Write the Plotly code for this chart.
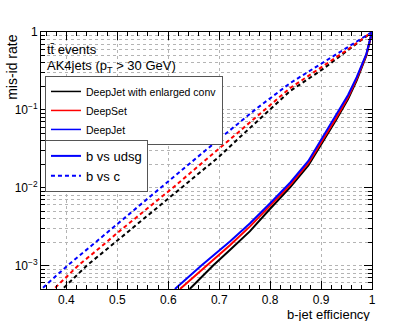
import plotly.graph_objects as go

# ---- data (b-jet efficiency vs mis-id rate) ----
# b vs c (dashed)
deepjet_c_x = [0.354, 0.402, 0.45, 0.50, 0.585, 0.70, 0.77, 0.839, 0.905, 0.95, 1.0]
deepjet_c_y = [5.2e-4, 1e-3, 1.82e-3, 3.39e-3, 1e-2, 0.0422, 0.1, 0.22, 0.412, 0.627, 1.0]

deepset_c_x = [0.378, 0.423, 0.46, 0.50, 0.609, 0.70, 0.739, 0.839, 0.905, 0.95, 1.0]
deepset_c_y = [5.2e-4, 1e-3, 1.58e-3, 2.63e-3, 1e-2, 0.0313, 0.0525, 0.19, 0.37, 0.58, 1.0]

enlarged_c_x = [0.395, 0.44, 0.50, 0.626, 0.70, 0.739, 0.839, 0.905, 0.95, 1.0]
enlarged_c_y = [5.2e-4, 1e-3, 2.1e-3, 1e-2, 0.0251, 0.0437, 0.174, 0.339, 0.562, 1.0]

# b vs udsg (solid)
deepjet_l_x = [0.613, 0.665, 0.721, 0.76, 0.80, 0.84, 0.875, 0.90, 0.93, 0.953, 0.97, 0.989, 1.0]
deepjet_l_y = [5e-4, 1e-3, 2.04e-3, 3.47e-3, 6.31e-3, 1.175e-2, 2.21e-2, 4.07e-2, 8.51e-2, 0.155, 0.263, 0.525, 1.0]

deepset_l_x = [0.623, 0.675, 0.721, 0.76, 0.80, 0.84, 0.875, 0.90, 0.93, 0.953, 0.97, 0.989, 1.0]
deepset_l_y = [5e-4, 1e-3, 1.82e-3, 3.16e-3, 5.82e-3, 1.096e-2, 2.065e-2, 3.80e-2, 7.94e-2, 0.1445, 0.251, 0.513, 1.0]

enlarged_l_x = [0.642, 0.688, 0.721, 0.76, 0.80, 0.84, 0.875, 0.90, 0.93, 0.953, 0.97, 0.989, 1.0]
enlarged_l_y = [5e-4, 1e-3, 1.585e-3, 2.75e-3, 5.37e-3, 1.023e-2, 1.93e-2, 3.55e-2, 7.5e-2, 0.138, 0.24, 0.50, 1.0]

x_tickvals = [0.4, 0.5, 0.6, 0.7, 0.8, 0.9, 1.0]
x_ticktext = ["0.4", "0.5", "0.6", "0.7", "0.8", "0.9", "1"]
y_tickvals = [1e-3, 1e-2, 1e-1, 1]
y_ticktext = ["10<sup>\u22123</sup>", "10<sup>\u22122</sup>", "10<sup>\u22121</sup>", "1"]

BLACK = "#000000"
RED = "#ff0000"
BLUE = "#0000ff"
DASH = "4px,3px"
FONT = "Liberation Sans, Arial, Helvetica, sans-serif"
GRID = "#b4b4b4"

fig = go.Figure()

curves = [
    (enlarged_c_x, enlarged_c_y, BLACK, DASH),
    (deepset_c_x, deepset_c_y, RED, DASH),
    (deepjet_c_x, deepjet_c_y, BLUE, DASH),
    (enlarged_l_x, enlarged_l_y, BLACK, "solid"),
    (deepset_l_x, deepset_l_y, RED, "solid"),
    (deepjet_l_x, deepjet_l_y, BLUE, "solid"),
]
for xs, ys, col, dash in curves:
    fig.add_trace(go.Scatter(x=xs, y=ys, mode="lines", showlegend=False,
                             line=dict(color=col, width=2, dash=dash),
                             hoverinfo="skip"))

# legend entries (tagger colours)
for name, col in [("DeepJet with enlarged conv", BLACK), ("DeepSet", RED), ("DeepJet", BLUE)]:
    fig.add_trace(go.Scatter(x=[None], y=[None], mode="lines", name=name,
                             line=dict(color=col, width=1.5), legend="legend"))
# legend entries (line styles)
for name, dash in [("b vs udsg", "solid"), ("b vs c", DASH)]:
    fig.add_trace(go.Scatter(x=[None], y=[None], mode="lines", name=name,
                             line=dict(color=BLUE, width=2, dash=dash), legend="legend2"))

minor_y = [m * 10.0 ** k for k in range(-4, 0) for m in range(2, 10)]

fig.update_layout(
    width=415, height=321,
    margin=dict(l=41, r=43, t=32, b=32),
    paper_bgcolor="white", plot_bgcolor="white",
    font=dict(family=FONT, color="black", size=12),
    xaxis=dict(
        range=[0.35, 1.0], tickmode="array", tickvals=x_tickvals, ticktext=x_ticktext,
        ticks="inside", ticklen=8, tickcolor="black", showline=True, linecolor="black",
        linewidth=1, mirror="allticks", showgrid=True, gridcolor=GRID,
        griddash="dot", gridwidth=1, zeroline=False, tickfont=dict(size=12),
        ticklabelstandoff=0,
        minor=dict(tickmode="linear", tick0=0.0, dtick=0.02, ticks="inside",
                   ticklen=4, tickcolor="black", showgrid=False),
    ),
    yaxis=dict(
        type="log", range=[-3.301, 0.0], tickmode="array", tickvals=y_tickvals,
        ticktext=y_ticktext, ticks="inside", ticklen=8, tickcolor="black",
        showline=True, linecolor="black", linewidth=1, mirror="allticks",
        showgrid=True, gridcolor=GRID, griddash="dot", gridwidth=1,
        zeroline=False, tickfont=dict(size=12),
        minor=dict(tickmode="array", tickvals=minor_y, ticks="inside", ticklen=4,
                   tickcolor="black", showgrid=True, gridcolor=GRID,
                   griddash="dot", gridwidth=1),
    ),
    legend=dict(x=0.012, y=0.829, xanchor="left", yanchor="top",
                bgcolor="white", bordercolor="#555555", borderwidth=1,
                font=dict(size=10.5), tracegroupgap=0),
    legend2=dict(x=0.012, y=0.58, xanchor="left", yanchor="top",
                 bgcolor="white", bordercolor="#555555", borderwidth=1,
                 font=dict(size=13), tracegroupgap=0),
    annotations=[
        dict(text="tt\u0304 events", x=0.012, y=0.93, xref="paper", yref="paper",
             xanchor="left", yanchor="middle", showarrow=False, font=dict(size=13)),
        dict(text="AK4jets (p<sub>T</sub> > 30 GeV)", x=0.012, y=0.865, xref="paper",
             yref="paper", xanchor="left", yanchor="middle", showarrow=False,
             font=dict(size=13)),
        dict(text="b-jet efficiency", x=1.0, y=-0.062, xref="paper", yref="paper",
             xanchor="right", yanchor="top", showarrow=False, font=dict(size=13)),
        dict(text="mis-id rate", x=-0.088, y=1.0, xref="paper", yref="paper",
             xanchor="center", yanchor="top", textangle=-90, showarrow=False,
             font=dict(size=14)),
    ],
)

fig.write_html("out.html", config={"displayModeBar": False},
               post_script="document.body.style.margin='0';document.body.style.overflow='hidden';")
